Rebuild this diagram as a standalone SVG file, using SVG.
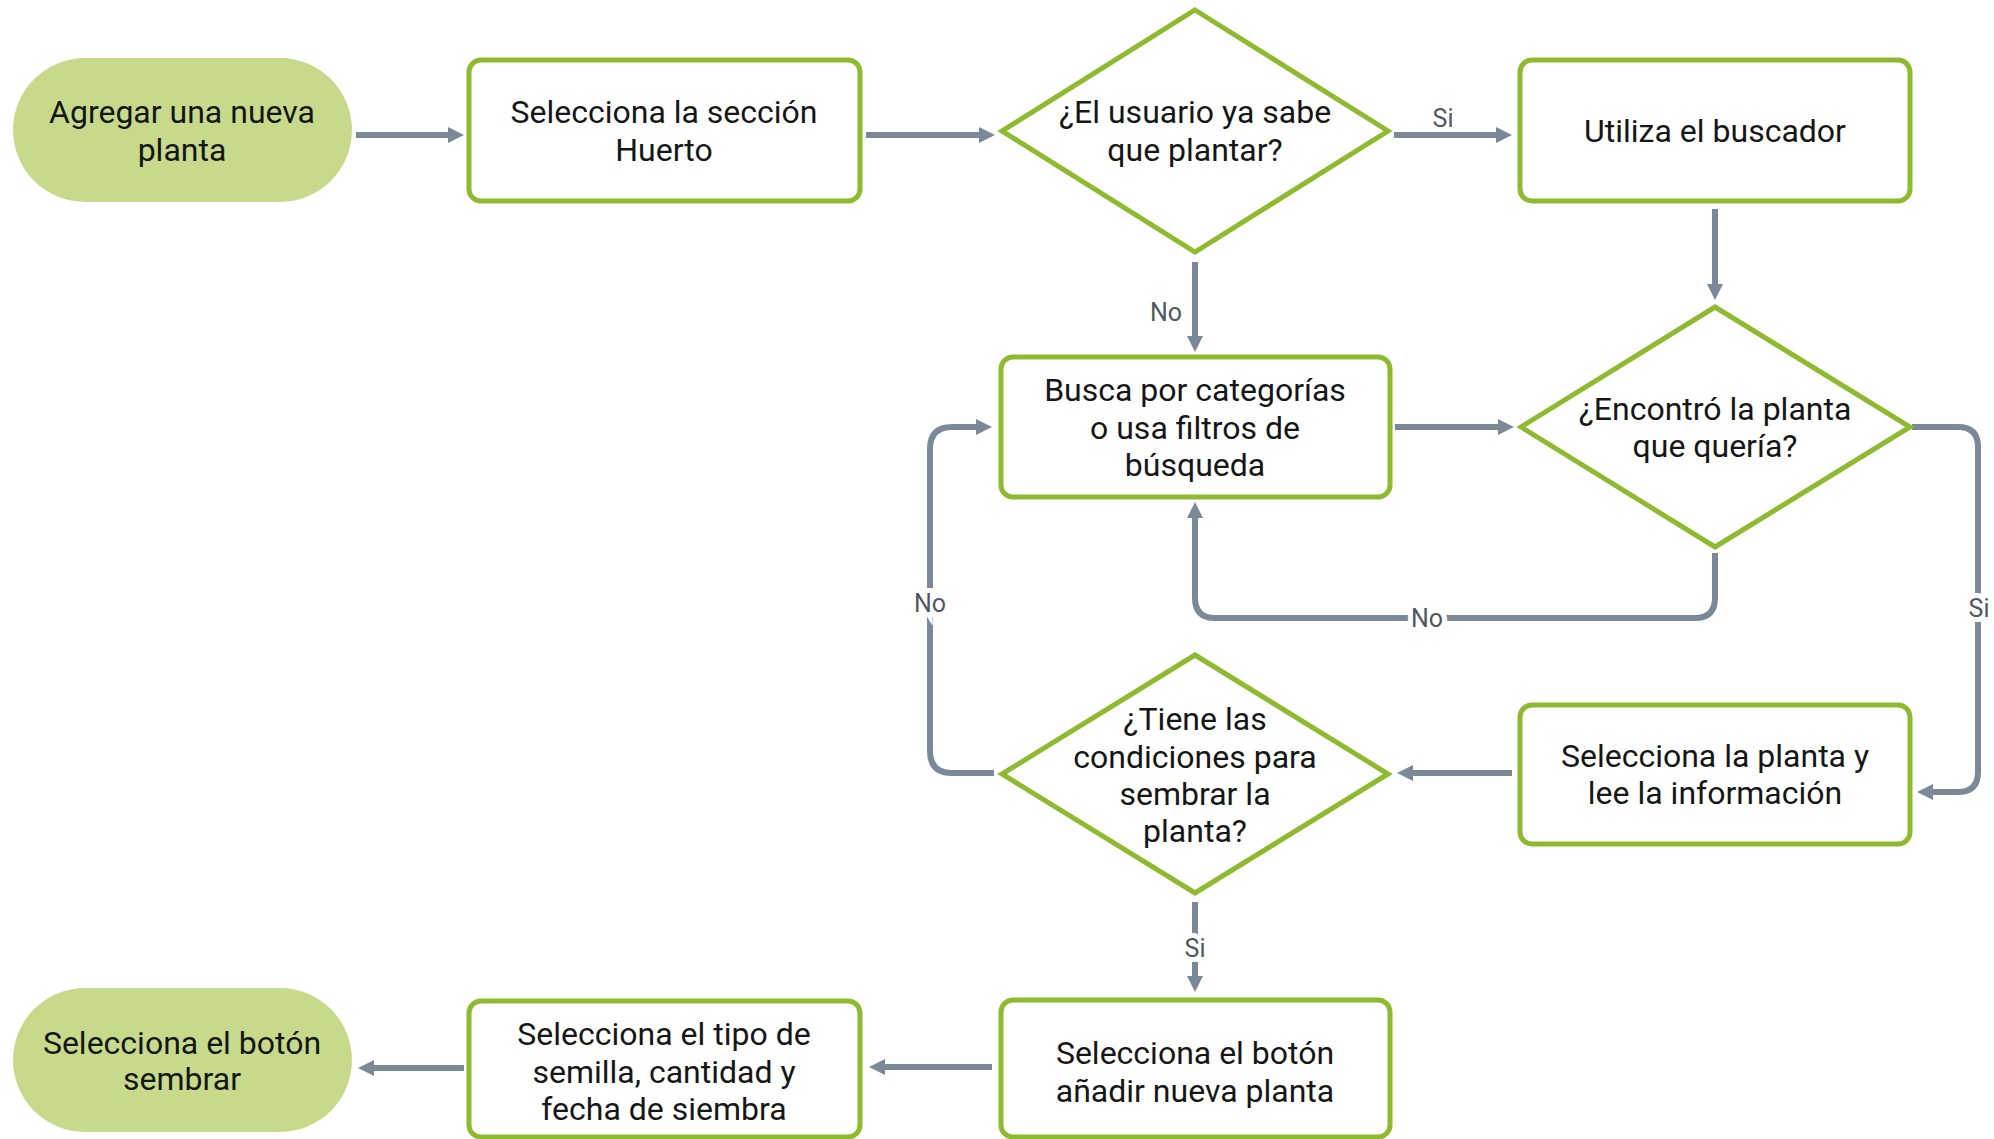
<svg xmlns="http://www.w3.org/2000/svg" width="1994" height="1139" viewBox="0 0 1994 1139">
<style>
.box{fill:#fff;stroke:#8dba2e;stroke-width:5}
.term{fill:#c7da8b;stroke:none}
.t{font-family:Roboto,"Liberation Sans",sans-serif;font-size:32px;fill:#161616;text-anchor:middle}
.edge{fill:none;stroke:#7b8898;stroke-width:6}
.lbl{font-family:Roboto,"Liberation Sans",sans-serif;font-size:25px;fill:#50575f;text-anchor:middle;stroke:#fff;stroke-width:10px;paint-order:stroke}
</style>
<defs>
<marker id="ah" viewBox="0 0 12 12" refX="3" refY="6" markerWidth="16" markerHeight="16" markerUnits="userSpaceOnUse" orient="auto">
<path d="M0,0 L12,6 L0,12 z" fill="#7b8898"/>
</marker>
</defs>
<rect width="1994" height="1139" fill="#fff"/>
<g id="connectors">
<path class="edge" marker-end="url(#ah)" d="M356,135 H452"/>
<path class="edge" marker-end="url(#ah)" d="M866,135 H983"/>
<path class="edge" marker-end="url(#ah)" d="M1394,135 H1500"/>
<path class="edge" marker-end="url(#ah)" d="M1195,262 V340"/>
<path class="edge" marker-end="url(#ah)" d="M1715,209 V288"/>
<path class="edge" marker-end="url(#ah)" d="M1395,427 H1502"/>
<path class="edge" marker-end="url(#ah)" d="M1715,553 V598 Q1715,618 1695,618 H1215 Q1195,618 1195,598 V514"/>
<path class="edge" marker-end="url(#ah)" d="M1912,427 H1958 Q1978,427 1978,447 V772 Q1978,792 1958,792 H1929"/>
<path class="edge" marker-end="url(#ah)" d="M1512,773 H1409"/>
<path class="edge" marker-end="url(#ah)" d="M994,773 H952 Q930,773 930,751 V449 Q930,427 952,427 H980"/>
<path class="edge" marker-end="url(#ah)" d="M1195,902 V980"/>
<path class="edge" marker-end="url(#ah)" d="M992,1067 H881"/>
<path class="edge" marker-end="url(#ah)" d="M464,1068 H370"/>
<text class="lbl" x="1443" y="127">Si</text>
<text class="lbl" x="1166" y="321">No</text>
<text class="lbl" x="1427" y="627">No</text>
<text class="lbl" x="930" y="612">No</text>
<text class="lbl" x="1979" y="617">Si</text>
<text class="lbl" x="1195" y="957">Si</text>
</g>
<g id="start">
<rect class="term" x="13" y="58" width="339" height="144" rx="72"/>
<text class="t" x="182" y="123">Agregar una nueva</text>
<text class="t" x="182" y="161">planta</text>
</g>
<g id="huerto">
<rect class="box" x="469" y="60" width="391" height="141" rx="12"/>
<text class="t" x="664" y="123">Selecciona la sección</text>
<text class="t" x="664" y="161">Huerto</text>
</g>
<g id="d1">
<polygon class="box" points="1195,10 1388,131 1195,252 1002,131"/>
<text class="t" x="1195" y="123">¿El usuario ya sabe</text>
<text class="t" x="1195" y="161">que plantar?</text>
</g>
<g id="buscador">
<rect class="box" x="1520" y="60" width="390" height="141" rx="12"/>
<text class="t" x="1715" y="142">Utiliza el buscador</text>
</g>
<g id="busca">
<rect class="box" x="1001" y="357" width="389" height="140" rx="12"/>
<text class="t" x="1195" y="401">Busca por categorías</text>
<text class="t" x="1195" y="439">o usa filtros de</text>
<text class="t" x="1195" y="476">búsqueda</text>
</g>
<g id="d2">
<polygon class="box" points="1715,307 1910,427 1715,547 1521,427"/>
<text class="t" x="1715" y="420">¿Encontró la planta</text>
<text class="t" x="1715" y="457">que quería?</text>
</g>
<g id="planta">
<rect class="box" x="1520" y="705" width="390" height="139" rx="12"/>
<text class="t" x="1715" y="767">Selecciona la planta y</text>
<text class="t" x="1715" y="804">lee la información</text>
</g>
<g id="d3">
<polygon class="box" points="1195,655 1388,774 1195,893 1002,774"/>
<text class="t" x="1195" y="730">¿Tiene las</text>
<text class="t" x="1195" y="768">condiciones para</text>
<text class="t" x="1195" y="805">sembrar la</text>
<text class="t" x="1195" y="842">planta?</text>
</g>
<g id="anadir">
<rect class="box" x="1001" y="1000" width="389" height="137" rx="12"/>
<text class="t" x="1195" y="1064">Selecciona el botón</text>
<text class="t" x="1195" y="1102">añadir nueva planta</text>
</g>
<g id="tipo">
<rect class="box" x="469" y="1001" width="391" height="136" rx="12"/>
<text class="t" x="664" y="1045">Selecciona el tipo de</text>
<text class="t" x="664" y="1083">semilla, cantidad y</text>
<text class="t" x="664" y="1120">fecha de siembra</text>
</g>
<g id="end">
<rect class="term" x="13" y="988" width="339" height="144" rx="72"/>
<text class="t" x="182" y="1054">Selecciona el botón</text>
<text class="t" x="182" y="1090">sembrar</text>
</g>
</svg>
